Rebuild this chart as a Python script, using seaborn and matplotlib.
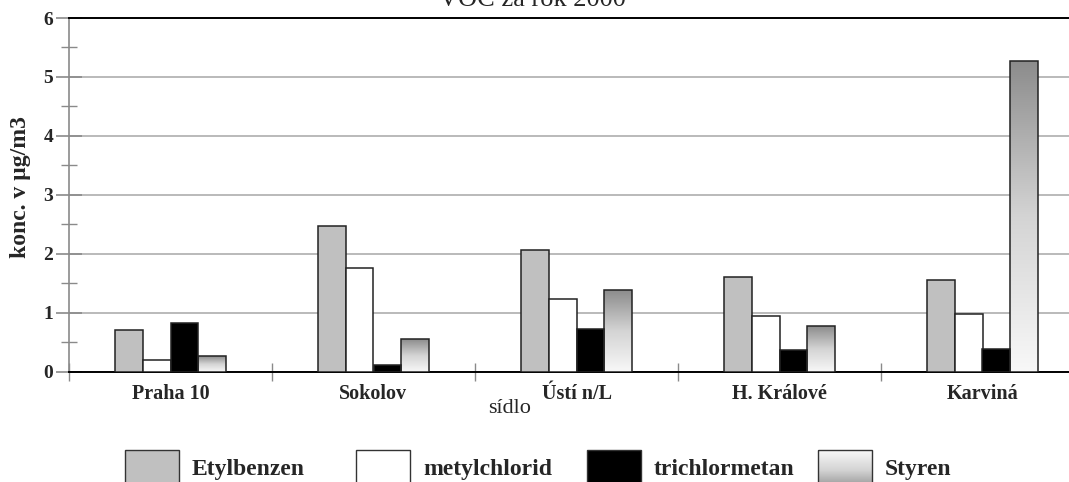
import numpy as np
import pandas as pd
import matplotlib
matplotlib.use('Agg')
import matplotlib.pyplot as plt
from matplotlib.colors import LinearSegmentedColormap
from matplotlib.patches import Rectangle
from matplotlib.ticker import MultipleLocator, FixedLocator
import seaborn as sns


# values (konc. v ug/m3)
cities = ['Praha 10', 'Sokolov', 'Ústí n/L', 'H. Králové', 'Karviná']
compounds = ['Etylbenzen', 'metylchlorid', 'trichlormetan', 'Styren']
etylbenzen = [0.71, 2.48, 2.07, 1.60, 1.55]
metylchlorid = [0.20, 1.76, 1.23, 0.95, 0.98]
trichlormetan = [0.83, 0.12, 0.72, 0.36, 0.38]
styren = [0.27, 0.55, 1.38, 0.78, 5.27]

colors = ['#c0c0c0', '#ffffff', '#000000', '#ffffff']
grad_cmap = LinearSegmentedColormap.from_list('styren', ['#f8f8f8', '#d4d4d4', '#8c8c8c'])
serif = ['Liberation Serif', 'DejaVu Serif']


def build_df():
    rows = []
    for name, vals in zip(compounds, [etylbenzen, metylchlorid, trichlormetan, styren]):
        for city, v in zip(cities, vals):
            rows.append({'sidlo': city, 'latka': name, 'konc': v})
    return pd.DataFrame(rows)


def gradient_fill(ax, patch):
    # fill one bar with a vertical grey gradient (dark top, light bottom)
    x0, y0 = patch.get_x(), patch.get_y()
    w, h = patch.get_width(), patch.get_height()
    grad = np.linspace(0, 1, 256).reshape(-1, 1)
    ax.imshow(grad, extent=[x0, x0 + w, y0, y0 + h], origin='lower', aspect='auto',
              cmap=grad_cmap, zorder=patch.get_zorder() - 0.1, interpolation='bilinear')
    patch.set_facecolor('none')


def draw_legend(fig):
    lax = fig.add_axes([0, 0, 1, 1], zorder=-1)
    lax.set_xlim(0, 1069)
    lax.set_ylim(482, 0)
    lax.axis('off')
    starts = [125, 356, 587, 818]
    for x, name, c in zip(starts, compounds, colors):
        if name == 'Styren':
            grad = np.linspace(0, 1, 256).reshape(-1, 1)
            lax.imshow(grad, extent=[x, x + 54, 490, 450], origin='upper', aspect='auto',
                       cmap=grad_cmap, interpolation='bilinear')
            c = 'none'
        lax.add_patch(Rectangle((x, 450), 54, 40, facecolor=c, edgecolor='#333333', lw=1.0))
        lax.text(x + 67, 475, name, fontsize=17, fontweight='bold', family=serif,
                 ha='left', va='baseline')
    lax.set_xlim(0, 1069)
    lax.set_ylim(482, 0)


def main():
    sns.set_theme(style='white')
    plt.rcParams['font.family'] = serif

    df = build_df()
    fig = plt.figure(figsize=(10.69, 4.82), dpi=100)
    ax = fig.add_axes([69 / 1069, 110.3 / 482, 1015 / 1069, 353.7 / 482])

    sns.barplot(data=df, x='sidlo', y='konc', hue='latka', order=cities, hue_order=compounds,
                palette=colors, width=0.55, gap=0, edgecolor='#222222', linewidth=1.1,
                saturation=1, legend=False, ax=ax, zorder=3)

    for patch in ax.containers[3]:
        gradient_fill(ax, patch)

    ax.set_xlim(-0.5, 4.5)
    ax.set_ylim(0, 6)

    # y axis
    ax.yaxis.set_major_locator(MultipleLocator(1))
    ax.yaxis.set_minor_locator(MultipleLocator(0.5))
    ax.tick_params(axis='y', which='major', direction='inout', length=19, width=1.2,
                   color='#8a8a8a', pad=2, left=True, labelsize=14)
    ax.tick_params(axis='y', which='minor', direction='inout', length=12, width=1.0,
                   color='#8a8a8a', left=True)
    for lbl in ax.get_yticklabels():
        lbl.set_fontweight('bold')
    ax.grid(axis='y', which='major', color='#b4b4b4', lw=1.3, zorder=0)

    # x axis: labels at categories, ticks at boundaries
    ax.xaxis.set_minor_locator(FixedLocator(np.arange(-0.5, 5, 1)))
    ax.tick_params(axis='x', which='major', length=0, pad=9, labelsize=14.5)
    ax.tick_params(axis='x', which='minor', direction='inout', length=13, width=1.0,
                   color='#8a8a8a', bottom=True)
    for lbl in ax.get_xticklabels():
        lbl.set_fontweight('bold')

    ax.set_xlabel('sídlo', fontsize=16)
    ax.xaxis.set_label_coords((510 - 69) / 1015, -0.078)
    ax.set_ylabel('')
    fig.text(21 / 1069, 1 - 187.5 / 482, 'konc. v µg/m3', rotation=90, fontsize=17,
             fontweight='bold', ha='center', va='center')

    for side in ['top', 'bottom']:
        ax.spines[side].set_color('black')
        ax.spines[side].set_linewidth(1.4)
    ax.spines['left'].set_color('#8a8a8a')
    ax.spines['left'].set_linewidth(1.2)
    ax.spines['right'].set_visible(False)

    fig.text(532 / 1069, 1 - 6 / 482, 'VOC za rok 2000', fontsize=19, ha='center', va='baseline')

    draw_legend(fig)
    fig.savefig('out.png', dpi=100)


if __name__ == "__main__":
    main()
